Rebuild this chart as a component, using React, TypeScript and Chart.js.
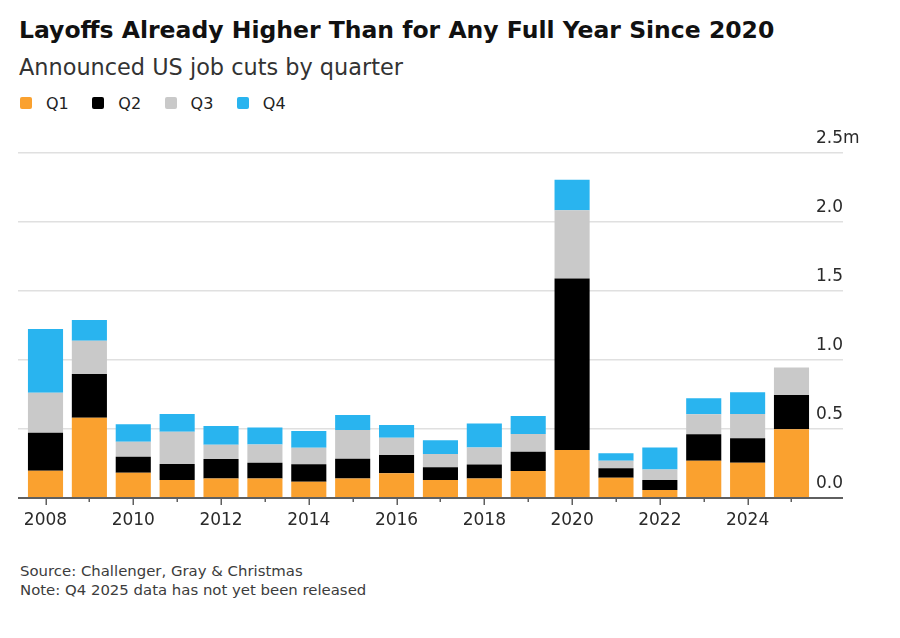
import React, { useEffect, useRef } from "react";
import { Chart, registerables } from "chart.js";

Chart.register(...registerables);

// ---- data (millions of announced job cuts) ----
const years = [2008, 2009, 2010, 2011, 2012, 2013, 2014, 2015, 2016, 2017, 2018, 2019, 2020, 2021, 2022, 2023, 2024, 2025];
const q1 = [0.198, 0.581, 0.183, 0.130, 0.142, 0.142, 0.118, 0.142, 0.179, 0.130, 0.142, 0.195, 0.347, 0.147, 0.058, 0.270, 0.255, 0.497];
const q2 = [0.275, 0.316, 0.116, 0.116, 0.140, 0.113, 0.126, 0.142, 0.132, 0.092, 0.101, 0.140, 1.242, 0.068, 0.072, 0.191, 0.177, 0.248];
const q3 = [0.289, 0.241, 0.109, 0.234, 0.103, 0.133, 0.120, 0.208, 0.125, 0.096, 0.123, 0.128, 0.494, 0.055, 0.077, 0.145, 0.176, 0.200];
const q4: (number | null)[] = [0.461, 0.150, 0.126, 0.128, 0.137, 0.123, 0.121, 0.109, 0.092, 0.101, 0.174, 0.130, 0.222, 0.054, 0.159, 0.116, 0.157, null];

const seriesNames = ["Q1", "Q2", "Q3", "Q4"];
const seriesColors = ["#FAA12F", "#000000", "#C9C9C9", "#29B4EF"];

const xTickYears = [2008, 2010, 2012, 2014, 2016, 2018, 2020, 2022, 2024];
const xTickLabels = ["2008", "2010", "2012", "2014", "2016", "2018", "2020", "2022", "2024"];
const yTickValues = [0, 0.5, 1, 1.5, 2, 2.5];
const yTickLabels = ["0.0", "0.5", "1.0", "1.5", "2.0", "2.5m"];

const FONT = '"DejaVu Sans", "Liberation Sans", Arial, sans-serif';

const axisPlugin = {
  id: "customAxes",
  afterDatasetsDraw(chart: any) {
    const { ctx, chartArea, scales } = chart;
    const xs = scales.x;
    const ys = scales.y;
    ctx.save();
    // axis line
    ctx.strokeStyle = "#5f5f5f";
    ctx.lineWidth = 2;
    ctx.beginPath();
    ctx.moveTo(chartArea.left, chartArea.bottom);
    ctx.lineTo(chartArea.right, chartArea.bottom);
    ctx.stroke();
    // tick marks
    ctx.lineWidth = 1.5;
    ctx.beginPath();
    years.forEach((yr) => {
      const px = Math.round(xs.getPixelForValue(yr)) + 0.25;
      const len = yr % 2 === 0 ? 7 : 4;
      ctx.moveTo(px, chartArea.bottom);
      ctx.lineTo(px, chartArea.bottom + len);
    });
    ctx.stroke();
    // x labels
    ctx.fillStyle = "#2a2a2a";
    ctx.font = `17px ${FONT}`;
    ctx.textAlign = "center";
    ctx.textBaseline = "alphabetic";
    xTickYears.forEach((yr, i) => {
      ctx.fillText(xTickLabels[i], xs.getPixelForValue(yr), chartArea.bottom + 27);
    });
    // y labels (left aligned, above gridlines)
    ctx.textAlign = "left";
    yTickValues.forEach((v, i) => {
      ctx.fillText(yTickLabels[i], chartArea.right - 27, ys.getPixelForValue(v) - 10);
    });
    ctx.restore();
  },
};

export default function App() {
  const canvasRef = useRef<HTMLCanvasElement | null>(null);

  useEffect(() => {
    if (!canvasRef.current) return;
    const all = [q1, q2, q3, q4];
    const chart = new Chart(canvasRef.current, {
      type: "bar",
      data: {
        datasets: all.map((arr, k) => ({
          label: seriesNames[k],
          data: years.map((yr, i) => ({ x: yr, y: arr[i] as any })),
          backgroundColor: seriesColors[k],
          borderWidth: 0,
          categoryPercentage: 0.8,
          barPercentage: 1,
        })),
      },
      options: {
        animation: false,
        responsive: true,
        maintainAspectRatio: false,
        layout: { padding: { left: 18, right: 57, top: 22.7, bottom: 52 } },
        plugins: {
          legend: { display: false },
          title: { display: false },
          tooltip: { enabled: false },
        },
        scales: {
          x: {
            type: "linear",
            stacked: true,
            offset: false,
            min: 2007.3733,
            max: 2026.1737,
            display: true,
            ticks: { display: false },
            grid: { display: false, drawTicks: false, offset: false },
            border: { display: false },
          },
          y: {
            type: "linear",
            position: "right",
            stacked: true,
            min: 0,
            max: 2.5,
            ticks: { display: false, stepSize: 0.5 },
            grid: {
              drawTicks: false,
              color: (c: any) => (c.tick && c.tick.value === 0 ? "rgba(0,0,0,0)" : "#e0e0e0"),
              lineWidth: 1.5,
            },
            border: { display: false },
          },
        },
      },
      plugins: [axisPlugin],
    });
    return () => chart.destroy();
  }, []);

  const abs = (o: React.CSSProperties): React.CSSProperties => ({ position: "absolute", margin: 0, ...o });

  return (
    <div style={{ position: "absolute", left: 0, top: 0, width: 900, height: 638, background: "#fff", fontFamily: FONT, overflow: "hidden" }}>
      <div style={abs({ left: 19, top: 18.5, fontSize: 23.5, lineHeight: "23.5px", fontWeight: 700, color: "#111", whiteSpace: "nowrap" })}>
        Layoffs Already Higher Than for Any Full Year Since 2020
      </div>
      <div style={abs({ left: 19, top: 55.5, fontSize: 22.4, lineHeight: "22.4px", color: "#333", whiteSpace: "nowrap" })}>
        Announced US job cuts by quarter
      </div>
      <div style={abs({ left: 20, top: 95.5, height: 16, display: "flex", alignItems: "flex-start" })}>
        {seriesNames.map((n, i) => (
          <div key={n} style={{ display: "flex", alignItems: "flex-start", marginRight: 23.5 }}>
            <span style={{ display: "inline-block", width: 12, height: 12, marginTop: 1.5, borderRadius: 2, background: seriesColors[i], marginRight: 14 }} />
            <span style={{ fontSize: 16, lineHeight: "16px", color: "#222" }}>{n}</span>
          </div>
        ))}
      </div>
      <div style={abs({ left: 0, top: 130, width: 900, height: 420 })}>
        <canvas ref={canvasRef} />
      </div>
      <div style={abs({ left: 20, top: 561.5, fontSize: 14.9, lineHeight: "19px", color: "#3c3c3c", whiteSpace: "nowrap" })}>
        <div>Source: Challenger, Gray &amp; Christmas</div>
        <div>Note: Q4 2025 data has not yet been released</div>
      </div>
    </div>
  );
}
